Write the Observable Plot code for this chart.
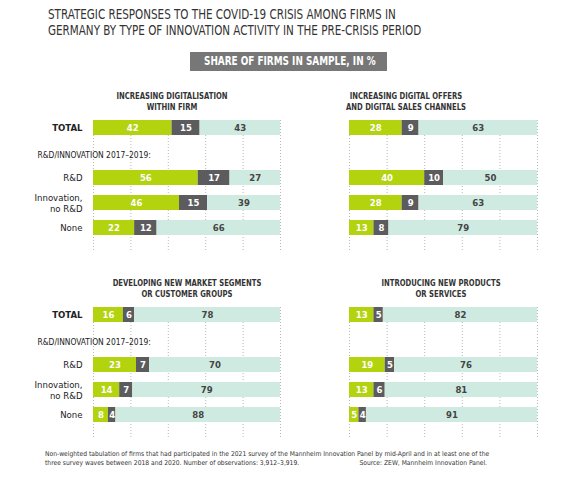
<!DOCTYPE html>
<html>
<head>
<meta charset="utf-8">
<script src="https://cdn.jsdelivr.net/npm/d3@7"></script>
<script src="https://cdn.jsdelivr.net/npm/@observablehq/plot@0.6"></script>
<style>
  body { margin: 0; background: #fff; }
  #wrap { position: relative; width: 570px; height: 480px; background: #fff;
    font-family: "Liberation Sans Narrow", "DejaVu Sans Condensed", sans-serif; color: #333; }
  .abs { position: absolute; }
  #title { left: 48px; top: 7px; font-size: 13.2px; line-height: 16px; color: #333; white-space: nowrap;
    transform: scaleX(0.875); transform-origin: left top; }
  #unit { left: 190px; top: 52px; width: 197px; height: 19px; background: #777; color: #fff;
    font-weight: 600; font-size: 11.5px; line-height: 19px; text-align: center; white-space: nowrap; }
  #unit span { display: inline-block; transform: scaleX(0.86); }
  .ptitle { font-weight: bold; font-size: 9.2px; line-height: 11px; text-align: center; width: 220px; color: #333;
    transform: scaleX(0.83); transform-origin: center top; }
  #note { left: 45px; top: 450px; font-size: 6.7px; line-height: 9px; color: #333; white-space: nowrap; }
  #src { right: 83px; top: 459px; font-size: 6.7px; line-height: 9px; color: #333; white-space: nowrap; }
  svg { position: absolute; overflow: visible; }
</style>
</head>
<body>
<div id="wrap">
  <div id="title" class="abs">STRATEGIC RESPONSES TO THE COVID-19 CRISIS AMONG FIRMS IN<br>GERMANY BY TYPE OF INNOVATION ACTIVITY IN THE PRE-CRISIS PERIOD</div>
  <div id="unit" class="abs"><span>SHARE OF FIRMS IN SAMPLE, IN %</span></div>
  <div id="note" class="abs">Non-weighted tabulation of firms that had participated in the 2021 survey of the Mannheim Innovation Panel by mid-April and in at least one of the<br>three survey waves between 2018 and 2020. Number of observations: 3,912–3,919.</div>
  <div id="src" class="abs">Source: ZEW, Mannheim Innovation Panel.</div>
</div>
<script>
// ---- data ----
const panelTitles = [
  "INCREASING DIGITALISATION<br>WITHIN FIRM",
  "INCREASING DIGITAL OFFERS<br>AND DIGITAL SALES CHANNELS",
  "DEVELOPING NEW MARKET SEGMENTS<br>OR CUSTOMER GROUPS",
  "INTRODUCING NEW PRODUCTS<br>OR SERVICES"
];
const rows = ["TOTAL", "R&D", "Innovation, no R&D", "None"];
const rowLabels = ["TOTAL", "R&D", "Innovation,\nno R&D", "None"];
const groupHeader = "R&D/INNOVATION 2017–2019:";
const series = ["Yes", "Partly", "No"];
const seriesYes    = [[42, 56, 46, 22], [28, 40, 28, 13], [16, 23, 14, 8], [13, 19, 13, 5]];
const seriesPartly = [[15, 17, 15, 12], [9, 10, 9, 8],  [6, 7, 7, 4],    [5, 5, 6, 4]];
const seriesNo     = [[43, 27, 39, 66], [63, 50, 63, 79], [78, 70, 79, 88], [82, 76, 81, 91]];
const gridTicks = [0, 20, 40, 60, 80, 100];

// ---- layout / style ----
const colors = ["#b3d30f", "#5c5c5e", "#cfebe1"];
const textColors = ["#ffffff", "#ffffff", "#444444"];
const HDR = "__hdr";
const yDomain = ["TOTAL", HDR, "R&D", "Innovation, no R&D", "None"];

const panelPos = [
  {left: 0,   top: 112, width: 290, ml: 93, mr: 10, labels: true,  titleX: 172, titleY: 92},
  {left: 290, top: 112, width: 280, ml: 59, mr: 33, labels: false, titleX: 406, titleY: 92},
  {left: 0,   top: 299, width: 290, ml: 93, mr: 10, labels: true,  titleX: 187, titleY: 279},
  {left: 290, top: 299, width: 280, ml: 59, mr: 33, labels: false, titleX: 441, titleY: 279}
];

const wrap = document.getElementById("wrap");

panelPos.forEach((p, i) => {
  const data = [];
  rows.forEach((r, j) => {
    [seriesYes, seriesPartly, seriesNo].forEach((s, k) => {
      data.push({row: r, series: series[k], value: s[i][j]});
    });
  });

  const marks = [
    Plot.ruleX(gridTicks, {stroke: "#b8b8b8", strokeWidth: 1, strokeDasharray: "1,2"}),
    Plot.barX(data, Plot.stackX({x: "value", y: "row", fill: "series", order: series})),
    Plot.text(data, Plot.stackX({
      x: "value", y: "row", text: d => String(d.value), order: series,
      fill: d => textColors[series.indexOf(d.series)],
      fontSize: 9.5, fontWeight: "bold"
    }))
  ];
  if (p.labels) {
    marks.push(
      Plot.text(rows.slice(0, 1), {
        y: d => d, text: d => rowLabels[rows.indexOf(d)], frameAnchor: "left",
        textAnchor: "end", dx: -11, fontSize: 9.5, fontWeight: "bold", fill: "#222"
      }),
      Plot.text(rows.slice(1), {
        y: d => d, text: d => rowLabels[rows.indexOf(d)], frameAnchor: "left",
        textAnchor: "end", dx: -11, fontSize: 9.5, lineHeight: 1.1, fill: "#222"
      }),
      Plot.text([groupHeader], {
        y: () => HDR, text: d => d, frameAnchor: "left", textAnchor: "start",
        dx: -56, dy: 2, fontSize: 8.4, fill: "#222"
      })
    );
  }

  const chart = Plot.plot({
    width: p.width,
    height: 145,
    marginLeft: p.ml,
    marginRight: p.mr,
    marginTop: 8,
    marginBottom: 5,
    style: {fontFamily: "'Liberation Sans Narrow', 'DejaVu Sans Condensed', sans-serif", background: "transparent"},
    x: {domain: [0, 100], axis: null},
    y: {domain: yDomain, axis: null, paddingInner: 0.4, paddingOuter: 0, insetBottom: 17},
    color: {domain: series, range: colors},
    marks
  });
  chart.style.left = p.left + "px";
  chart.style.top = p.top + "px";
  wrap.appendChild(chart);

  const t = document.createElement("div");
  t.className = "abs ptitle";
  t.innerHTML = panelTitles[i];
  t.style.left = (p.titleX - 110) + "px";
  t.style.top = (p.titleY - 2) + "px";
  wrap.appendChild(t);
});
</script>
</body>
</html>
